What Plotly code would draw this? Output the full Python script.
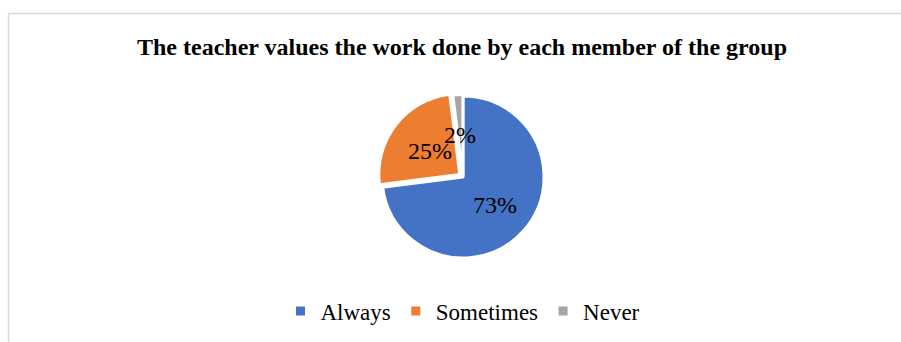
import math
import plotly.graph_objects as go

# Survey answers for the statement shown in the title
categories = ["Always", "Sometimes", "Never"]
shares = [73, 25, 2]
colors = ["#4472C4", "#ED7D31", "#A5A5A5"]
pulls = [0, 0.05, 0.02]

W, H = 901, 342
cx, cy, r = 463, 177, 81          # pie centre / radius in pixels
rd = r * (1 + max(pulls))          # domain half-size so pulled slices fit

serif = "Liberation Serif"

fig = go.Figure(go.Pie(
    labels=categories,
    values=shares,
    sort=False,
    direction="clockwise",
    rotation=0,
    pull=pulls,
    marker=dict(colors=colors, line=dict(color="white", width=3)),
    textinfo="none",
    hoverinfo="label+percent",
    domain=dict(x=[(cx - rd) / W, (cx + rd) / W],
                y=[(H - cy - rd) / H, (H - cy + rd) / H]),
))

# Percentage labels, placed halfway out along each slice's mid-angle
total = sum(shares)
start = 0.0
annotations = []
for v in shares:
    frac = v / total
    mid = (start + frac / 2) * 2 * math.pi
    start += frac
    px = cx + 0.52 * r * math.sin(mid)
    py = cy - 0.52 * r * math.cos(mid)
    annotations.append(dict(
        x=px / W, y=1 - py / H, xref="paper", yref="paper",
        text=f"{round(frac * 100)}%", showarrow=False,
        font=dict(family=serif, size=24, color="#000000"),
        xanchor="center", yanchor="middle",
    ))

fig.update_layout(
    width=W, height=H,
    margin=dict(l=0, r=0, t=0, b=0),
    paper_bgcolor="white",
    plot_bgcolor="white",
    title=dict(
        text="<b>The teacher values the work done by each member of the group</b>",
        x=462 / W, xanchor="center",
        y=1 - 47 / H, yanchor="middle",
        font=dict(family=serif, size=24, color="#000000"),
    ),
    showlegend=True,
    legend=dict(
        orientation="h",
        x=463 / W, xanchor="center",
        y=1 - 311 / H, yanchor="middle",
        font=dict(family=serif, size=23, color="#000000"),
        itemclick=False,
    ),
    annotations=annotations,
    shapes=[
        dict(type="line", xref="paper", yref="paper",
             x0=8.5 / W, y0=0, x1=8.5 / W, y1=1 - 13.5 / H,
             line=dict(color="#D9D9D9", width=1.5)),
        dict(type="line", xref="paper", yref="paper",
             x0=8.5 / W, y0=1 - 13.5 / H, x1=1, y1=1 - 13.5 / H,
             line=dict(color="#D9D9D9", width=1.5)),
    ],
)

fig.write_html("out.html")
